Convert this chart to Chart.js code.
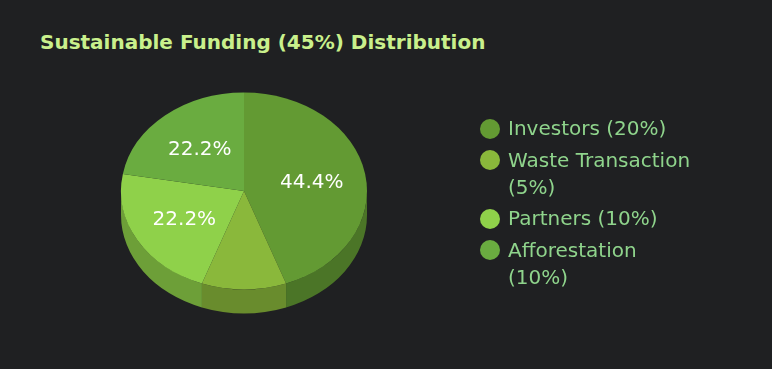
<!DOCTYPE html>
<html>
<head>
<meta charset="utf-8">
<script src="https://cdn.jsdelivr.net/npm/chart.js@4.4.1/dist/chart.umd.min.js"></script>
<style>
    html, body { margin: 0; padding: 0; background: #1f2022; }
    #wrap { position: relative; width: 772px; height: 369px; overflow: hidden; font-family: "DejaVu Sans", sans-serif; }
    #title { position: absolute; left: 40px; top: 31px; font-size: 20px; font-weight: bold; line-height: 22px; color: #c9f08c; white-space: nowrap; }
    #pieChart { position: absolute; left: 0; top: 0; }
    #legend { position: absolute; left: 480px; top: 115px; }
    .item { display: flex; align-items: flex-start; margin-bottom: 4.6px; }
    .dot { width: 20px; height: 20px; border-radius: 50%; margin: 3.5px 8px 0 0; flex: none; }
    .txt { width: 190px; font-size: 20px; line-height: 27px; color: #8fd48c; }
</style>
</head>
<body>
<div id="wrap">
    <div id="title">Sustainable Funding (45%) Distribution</div>
    <canvas id="pieChart" width="488" height="369"></canvas>
    <div id="legend"></div>
</div>
<script>
// ==================== DATA ====================
const categories = ["Investors (20%)", "Waste Transaction (5%)", "Partners (10%)", "Afforestation (10%)"];
const values = [20, 5, 10, 10];
const colors = ["#639a33", "#8ab83b", "#8fd14a", "#6aac40"];

const SQUASH = 0.8;   // ellipse ratio
const DEPTH = 24;     // side height in px

function darker(hex, f) {
    const n = parseInt(hex.slice(1), 16);
    const r = Math.round(((n >> 16) & 255) * f);
    const g = Math.round(((n >> 8) & 255) * f);
    const b = Math.round((n & 255) * f);
    return `rgb(${r},${g},${b})`;
}

// ==================== 3D PIE PLUGIN ====================
const pie3d = {
    id: "pie3d",
    beforeDatasetsDraw(chart) {
        const ctx = chart.ctx;
        const arcs = chart.getDatasetMeta(0).data;
        if (!arcs.length) return;
        const cx = arcs[0].x, cy = arcs[0].y;
        ctx.save();
        ctx.translate(cx, cy);
        ctx.scale(1, SQUASH);
        ctx.translate(-cx, -cy);
        const d = DEPTH / SQUASH;
        arcs.forEach((a, i) => {
            const s = Math.max(a.startAngle, 0);
            const e = Math.min(a.endAngle, Math.PI);
            if (e <= s) return;
            ctx.beginPath();
            ctx.arc(cx, cy + d, a.outerRadius, s, e);
            ctx.arc(cx, cy, a.outerRadius, e, s, true);
            ctx.closePath();
            ctx.fillStyle = darker(colors[i], 0.76);
            ctx.fill();
        });
    },
    afterDatasetsDraw(chart) {
        const ctx = chart.ctx;
        ctx.restore();
        const arcs = chart.getDatasetMeta(0).data;
        const total = values.reduce((a, b) => a + b, 0);
        ctx.save();
        ctx.fillStyle = "#ffffff";
        ctx.font = "20px 'DejaVu Sans'";
        ctx.textAlign = "center";
        ctx.textBaseline = "middle";
        arcs.forEach((a, i) => {
            const share = values[i] / total;
            if (share < 0.12) return;
            const mid = (a.startAngle + a.endAngle) / 2;
            const r = a.outerRadius * 0.56;
            const x = a.x + Math.cos(mid) * r;
            const y = a.y + Math.sin(mid) * r * SQUASH + 1.5;
            ctx.fillText((share * 100).toFixed(1) + "%", x, y);
        });
        ctx.restore();
    }
};

// ==================== CHART ====================
new Chart(document.getElementById("pieChart").getContext("2d"), {
    type: "pie",
    data: {
        labels: categories,
        datasets: [{
            data: values,
            backgroundColor: colors,
            borderWidth: 0,
            clip: false,
        }],
    },
    options: {
        responsive: false,
        animation: false,
        devicePixelRatio: 1,
        layout: { padding: { left: 121, right: 121, top: 68, bottom: 55 } },
        plugins: {
            legend: { display: false },
            tooltip: { enabled: false }
        }
    },
    plugins: [pie3d]
});

// ==================== LEGEND ====================
document.getElementById("legend").innerHTML = categories.map((c, i) =>
    `<div class="item"><span class="dot" style="background:${colors[i]}"></span><span class="txt">${c}</span></div>`
).join("");
</script>
</body>
</html>
